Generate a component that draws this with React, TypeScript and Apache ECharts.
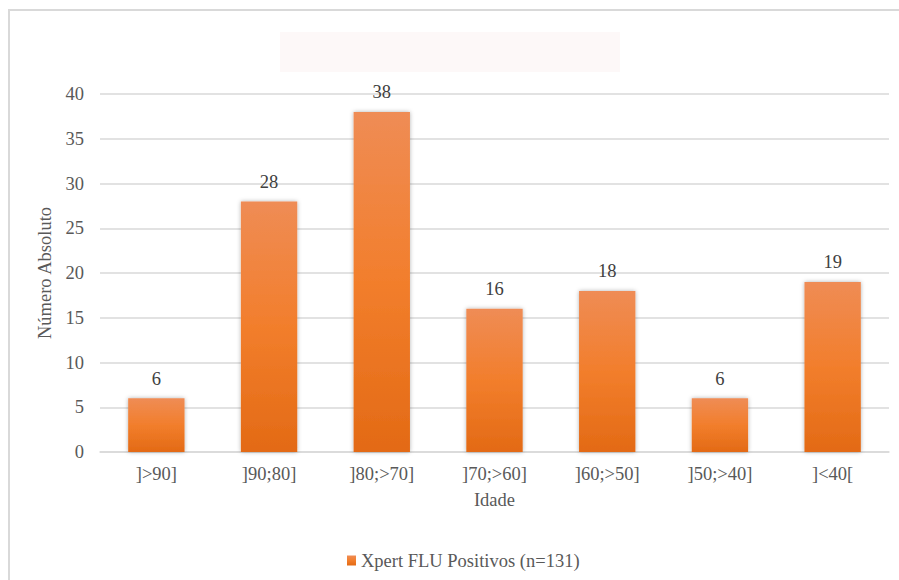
import React, { useEffect, useRef } from "react";
import * as echarts from "echarts";

// Age bands and counts of positive results
const categories = ["]>90]", "]90;80]", "]80;>70]", "]70;>60]", "]60;>50]", "]50;>40]", "]<40["];
const positivos = [6, 28, 38, 16, 18, 6, 19];
const seriesName = "Xpert FLU Positivos (n=131)";
const yAxisTitle = "Número Absoluto";
const xAxisTitle = "Idade";

const FONT = "Liberation Serif";
const FS = 18.5;
const TEXT_GREY = "#595959";

export default function App() {
  const ref = useRef<HTMLDivElement>(null);

  useEffect(() => {
    if (!ref.current) return;
    const chart = echarts.init(ref.current, undefined, { renderer: "svg" });

    const barFill = new echarts.graphic.LinearGradient(0, 0, 0, 1, [
      { offset: 0, color: "#EF8C55" },
      { offset: 0.5, color: "#F27E2C" },
      { offset: 1, color: "#E36A15" },
    ]);

    chart.setOption({
      animation: false,
      backgroundColor: "#ffffff",
      textStyle: { fontFamily: FONT },
      graphic: [
        {
          type: "rect",
          shape: { x: 9, y: 10, width: 900, height: 580 },
          style: { fill: "none", stroke: "#d9d9d9", lineWidth: 2 },
          silent: true,
          z: -10,
        },
        {
          type: "rect",
          shape: { x: 280, y: 32, width: 340, height: 40 },
          style: { fill: "#fdf8f8" },
          silent: true,
          z: -10,
        },
      ],
      grid: { left: 100, right: 10, top: 94, bottom: 128, containLabel: false },
      legend: {
        left: 342,
        top: 546,
        itemWidth: 9,
        itemHeight: 10,
        icon: "rect",
        itemGap: 5,
        textStyle: { fontFamily: FONT, fontSize: FS, color: TEXT_GREY },
        data: [seriesName],
      },
      xAxis: {
        type: "category",
        data: categories,
        name: xAxisTitle,
        nameLocation: "middle",
        nameGap: 38,
        nameTextStyle: { fontFamily: FONT, fontSize: FS, color: TEXT_GREY },
        axisLine: { show: true, lineStyle: { color: "#d9d9d9", width: 1.5 } },
        axisTick: { show: false },
        axisLabel: { fontFamily: FONT, fontSize: FS, color: TEXT_GREY, margin: 12 },
      },
      yAxis: {
        type: "value",
        min: 0,
        max: 40,
        interval: 5,
        name: yAxisTitle,
        nameLocation: "middle",
        nameGap: 42,
        nameRotate: 90,
        nameTextStyle: { fontFamily: FONT, fontSize: FS, color: TEXT_GREY },
        axisLine: { show: false },
        axisTick: { show: false },
        axisLabel: { fontFamily: FONT, fontSize: FS, color: TEXT_GREY, margin: 16 },
        splitLine: { lineStyle: { color: "#d9d9d9", width: 1.5 } },
      },
      series: [
        {
          name: seriesName,
          type: "bar",
          data: positivos,
          barWidth: "50%",
          itemStyle: {
            color: barFill,
            shadowBlur: 4,
            shadowColor: "rgba(0,0,0,0.3)",
            shadowOffsetX: 0,
            shadowOffsetY: 0,
          },
          label: {
            show: true,
            position: "top",
            distance: 10,
            fontFamily: FONT,
            fontSize: FS,
            color: "#404040",
          },
        },
      ],
    });

    return () => chart.dispose();
  }, []);

  return (
    <div
      ref={ref}
      style={{ position: "absolute", left: 0, top: 0, width: 899, height: 580 }}
    />
  );
}
